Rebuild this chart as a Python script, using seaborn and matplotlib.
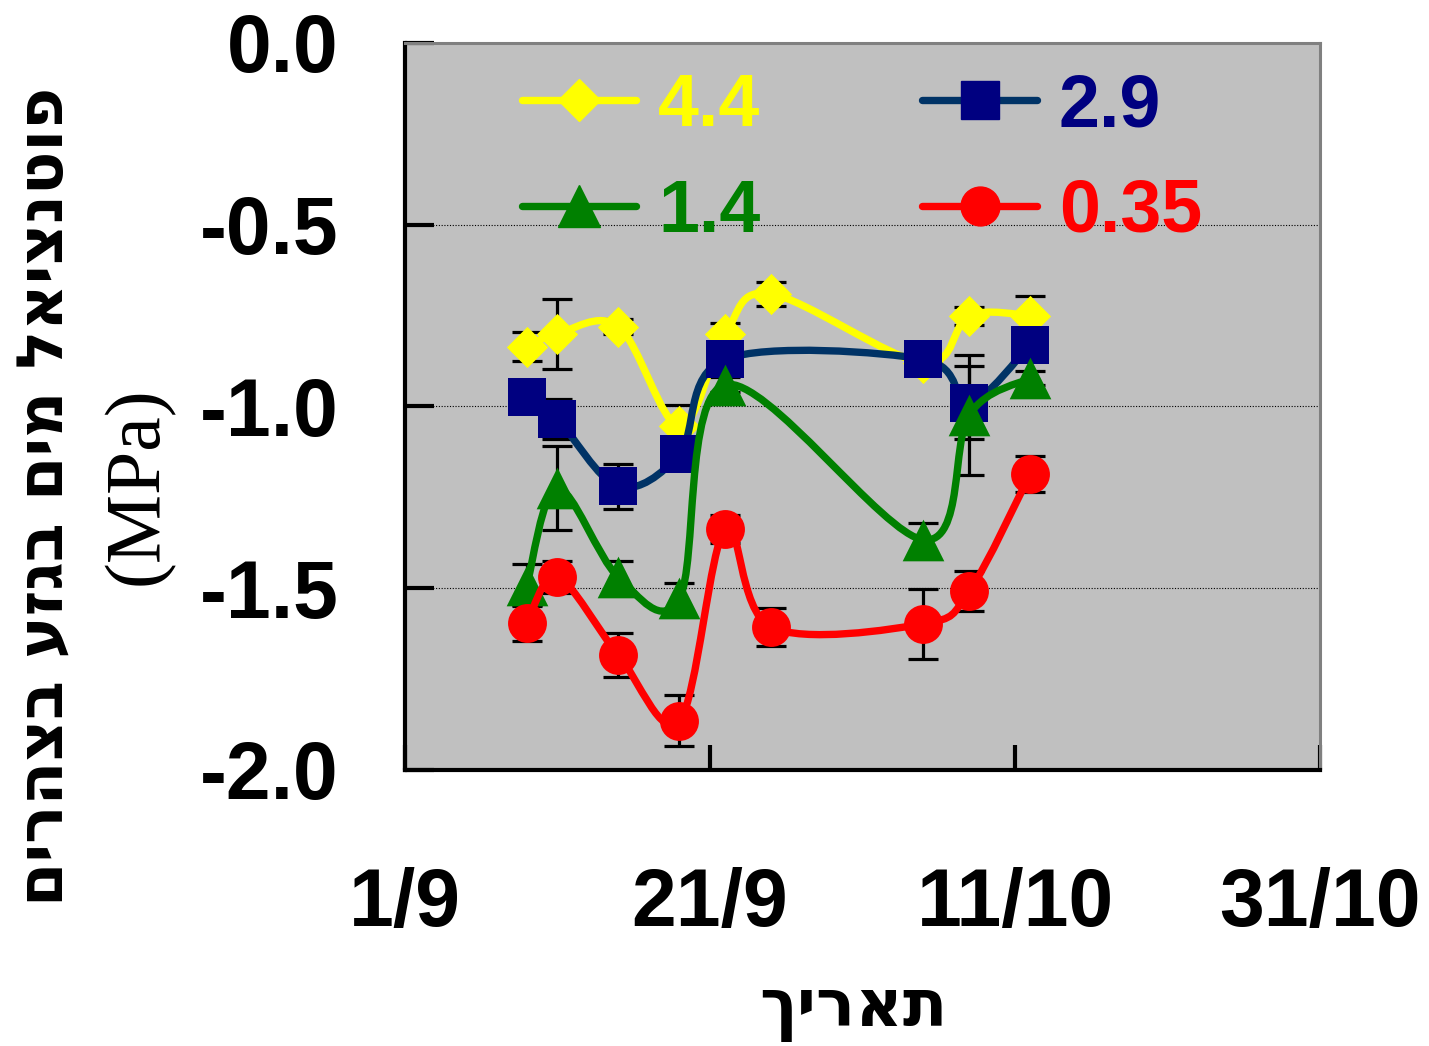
import numpy as np
import pandas as pd
import matplotlib
matplotlib.use("Agg")
import matplotlib.pyplot as plt
import matplotlib.dates as mdates
from matplotlib.path import Path
from matplotlib.patches import PathPatch
from matplotlib.lines import Line2D
import seaborn as sns

# measurement dates (year not shown on the chart)
DATES = ["2004-09-09", "2004-09-11", "2004-09-15", "2004-09-19", "2004-09-22",
         "2004-09-25", "2004-10-05", "2004-10-08", "2004-10-12"]

# midday stem water potential (MPa) per treatment, nan = no reading
VAL_44 = [-0.835, -0.80, -0.78, -1.055, -0.80, -0.69, -0.88, -0.75, -0.75]
ERR_44 = [0.04, 0.096, 0.02, 0.06, 0.03, 0.033, 0.02, 0.025, 0.055]
VAL_29 = [-0.974, -1.035, -1.22, -1.13, -0.87, np.nan, -0.87, -0.99, -0.83]
ERR_29 = [0.02, 0.055, 0.063, 0.03, 0.02, np.nan, 0.02, 0.10, 0.02]
VAL_14 = [-1.49, -1.225, -1.47, -1.527, -0.94, np.nan, -1.367, -1.023, -0.922]
ERR_14 = [0.058, 0.115, 0.045, 0.04, 0.02, np.nan, 0.047, 0.165, 0.02]
VAL_035 = [-1.596, -1.469, -1.684, -1.865, -1.337, -1.607, -1.598, -1.508, -1.186]
ERR_035 = [0.05, 0.044, 0.06, 0.07, 0.038, 0.053, 0.097, 0.055, 0.05]

LABELS = ["4.4", "2.9", "1.4", "0.35"]
XTICK_DATES = ["2004-09-01", "2004-09-21", "2004-10-11", "2004-10-31"]
XTICK_LABELS = ["1/9", "21/9", "11/10", "31/10"]
YTICKS = [0.0, -0.5, -1.0, -1.5, -2.0]

YLABEL = "פוטנציאל מים בגזע בצהרים"
YUNIT = "(MPa)"
XLABEL = "תאריך"

# label, values, errors, line colour, marker colour, marker, size, text colour
SERIES = [
    ("4.4", VAL_44, ERR_44, "#FFFF00", "#FFFF00", "D", 21, "#FFFF00"),
    ("2.9", VAL_29, ERR_29, "#003366", "#000080", "s", 28, "#000080"),
    ("1.4", VAL_14, ERR_14, "#008000", "#008000", "^", 30, "#008000"),
    ("0.35", VAL_035, ERR_035, "#FF0000", "#FF0000", "o", 28, "#FF0000"),
]

sns.set_theme(style="ticks")
plt.rcParams["font.family"] = ["Liberation Sans", "DejaVu Sans"]
plt.rcParams["text.color"] = "black"
plt.rcParams["axes.labelcolor"] = "black"


def smooth_path(xs, ys):
    # Catmull-Rom style bezier through the points (like Excel "smoothed line")
    pts = np.column_stack([xs, ys])
    verts = [tuple(pts[0])]
    codes = [Path.MOVETO]
    n = len(pts)
    for i in range(n - 1):
        p0 = pts[max(i - 1, 0)]
        p1 = pts[i]
        p2 = pts[i + 1]
        p3 = pts[min(i + 2, n - 1)]
        c1 = p1 + (p2 - p0) / 6.0
        c2 = p2 - (p3 - p1) / 6.0
        verts += [tuple(c1), tuple(c2), tuple(p2)]
        codes += [Path.CURVE4] * 3
    return Path(verts, codes)


x_all = mdates.date2num(pd.to_datetime(DATES))

fig = plt.figure(figsize=(14.29, 10.46), dpi=100)
fig.patch.set_facecolor("white")
ax = fig.add_axes([0.2834, 0.2639, 0.6403, 0.6950])
ax.set_facecolor("#C0C0C0")

handles = []
for k, (lab, vals, errs, lc, mc, mk, ms, tc) in enumerate(SERIES):
    v = np.array(vals, dtype=float)
    e = np.array(errs, dtype=float)
    ok = ~np.isnan(v)
    xs, ys, es = x_all[ok], v[ok], e[ok]
    z = 3 + k

    ax.errorbar(xs, ys, yerr=es, fmt="none", ecolor="black", elinewidth=2.3,
                capsize=11, capthick=2.3, zorder=2)
    ax.add_patch(PathPatch(smooth_path(xs, ys), fill=False, edgecolor=lc,
                           linewidth=5.3, capstyle="round", joinstyle="round",
                           zorder=z))
    sns.scatterplot(x=xs, y=ys, marker=mk, s=ms ** 2, color=mc, edgecolor=mc,
                    linewidth=0, ax=ax, zorder=z + 0.5, legend=False)
    handles.append(Line2D([], [], color=lc, linewidth=5.3, marker=mk,
                          markersize=ms, markerfacecolor=mc,
                          markeredgecolor=mc, label=lab))

ax.set_xlim(mdates.date2num(pd.to_datetime(XTICK_DATES[0])),
            mdates.date2num(pd.to_datetime(XTICK_DATES[-1])))
ax.set_ylim(-2.0, 0.0)
ax.set_xticks(mdates.date2num(pd.to_datetime(XTICK_DATES)))
ax.set_xticklabels(XTICK_LABELS)
ax.set_yticks(YTICKS)
ax.set_yticklabels([f"{t:.1f}" for t in YTICKS])

ax.grid(axis="y", color="black", linestyle=(0, (1, 1.5)), linewidth=0.8)
ax.grid(axis="x", visible=False)
ax.set_axisbelow(True)

for side in ["left", "bottom"]:
    ax.spines[side].set_color("black")
    ax.spines[side].set_linewidth(3)
for side in ["top", "right"]:
    ax.spines[side].set_visible(True)
    ax.spines[side].set_color("#808080")
    ax.spines[side].set_linewidth(2.2)

ax.tick_params(axis="y", direction="in", length=21, width=3, color="black",
               labelsize=58, pad=48, labelcolor="black")
ax.tick_params(axis="x", direction="in", length=18, width=3, color="black",
               labelsize=58, pad=70, labelcolor="black")
for t in ax.get_xticklabels() + ax.get_yticklabels():
    t.set_fontweight("bold")

# legend: order so that ncol=2 gives 4.4 / 2.9 on top, 1.4 / 0.35 below
order = [0, 2, 1, 3]
leg = ax.legend([handles[i] for i in order], [handles[i].get_label() for i in order],
                ncol=2, frameon=False, loc="upper left",
                bbox_to_anchor=(0.128, 0.96), prop={"size": 53, "weight": "bold"},
                handlelength=1.55, handletextpad=0.3, columnspacing=2.2,
                labelspacing=0.5, borderpad=0, borderaxespad=0, numpoints=1)
for txt, i in zip(leg.get_texts(), order):
    txt.set_color(SERIES[i][7])

fig.text(0.032, 0.525, YLABEL[::-1], rotation=90, ha="center", va="center",
         fontsize=46, fontweight="bold", color="black",
         family=["Liberation Sans Narrow", "DejaVu Sans"])
fig.text(0.0966, 0.536, YUNIT, rotation=90, ha="center", va="center",
         fontsize=56, color="black", family=["Liberation Serif", "DejaVu Serif"])
fig.text(0.597, 0.034, XLABEL[::-1], ha="center", va="center",
         fontsize=47, fontweight="bold", color="black",
         family=["DejaVu Sans"])

fig.savefig("out.png", dpi=100, facecolor="white")
